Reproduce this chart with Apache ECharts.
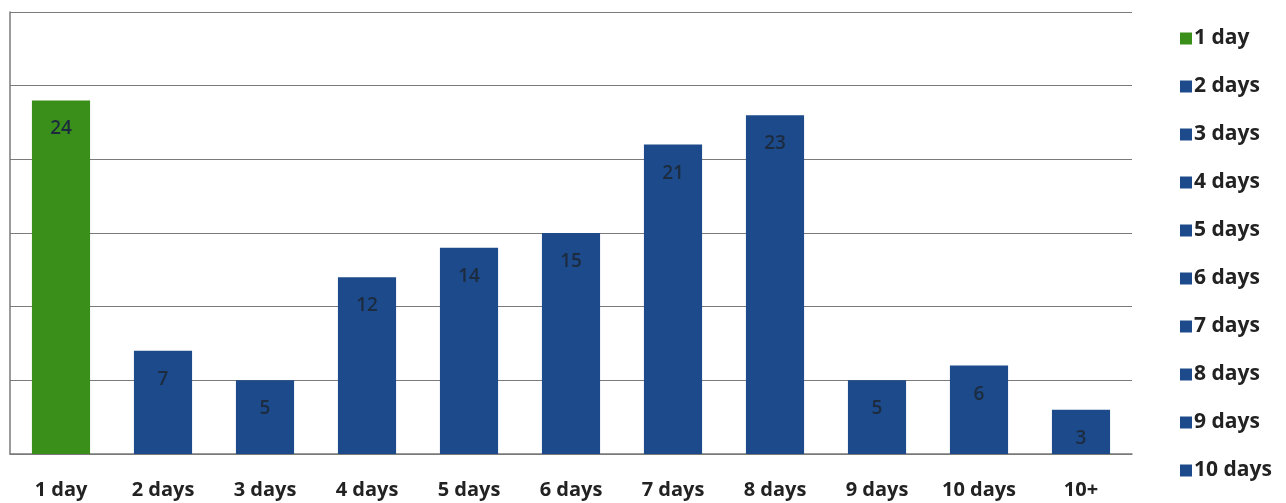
<!DOCTYPE html>
<html>
<head>
<meta charset="utf-8">
<script src="https://cdn.jsdelivr.net/npm/echarts@6/dist/echarts.min.js"></script>
<style>
  html, body { margin: 0; padding: 0; background: #fff; }
  #main { width: 1286px; height: 503px; }
</style>
</head>
<body>
<div id="main"></div>
<script>
var categories = ['1 day', '2 days', '3 days', '4 days', '5 days', '6 days', '7 days', '8 days', '9 days', '10 days', '10+'];
var values = [24, 7, 5, 12, 14, 15, 21, 23, 5, 6, 3];
var legendNames = ['1 day', '2 days', '3 days', '4 days', '5 days', '6 days', '7 days', '8 days', '9 days', '10 days'];

var green = '#3a8f1a';
var blue = '#1c4a8a';
var font = '"Open Sans", "DejaVu Sans", sans-serif';

var chartDom = document.getElementById('main');
var myChart = echarts.init(chartDom);

var barData = values.map(function (v, i) {
  return { value: v, itemStyle: { color: i === 0 ? green : blue } };
});

// empty line series only so the legend shows the coloured squares
var legendSeries = legendNames.map(function (n, i) {
  return {
    name: n,
    type: 'line',
    data: [],
    itemStyle: { color: i === 0 ? green : blue }
  };
});

var option = {
  animation: false,
  grid: { left: 10, right: 154, top: 12, bottom: 49 },
  legend: {
    orient: 'vertical',
    left: 1175,
    top: 23,
    icon: 'rect',
    itemWidth: 12,
    itemHeight: 12,
    itemGap: 27,
    data: legendNames,
    textStyle: { fontFamily: font, fontSize: 21, fontWeight: 'bold', color: '#222', padding: [0, 0, 0, -3] }
  },
  xAxis: {
    type: 'category',
    data: categories,
    axisLine: { lineStyle: { color: '#7a7a7a', width: 1.5 } },
    axisTick: { show: false },
    axisLabel: { fontFamily: font, fontSize: 20, fontWeight: 'bold', color: '#222', margin: 26 }
  },
  yAxis: {
    type: 'value',
    min: 0,
    max: 30,
    interval: 5,
    axisLine: { show: true, lineStyle: { color: '#7a7a7a', width: 1.5 } },
    axisTick: { show: false },
    axisLabel: { show: false },
    splitLine: { lineStyle: { color: '#7a7a7a', width: 1.2 } }
  },
  series: [
    {
      name: 'count',
      type: 'bar',
      data: barData,
      barWidth: '57%',
      label: {
        show: true,
        position: 'insideTop',
        distance: 19,
        fontFamily: font,
        fontSize: 19,
        fontWeight: 600,
        color: '#1d2b3f'
      }
    }
  ].concat(legendSeries)
};

option && myChart.setOption(option);
</script>
</body>
</html>
